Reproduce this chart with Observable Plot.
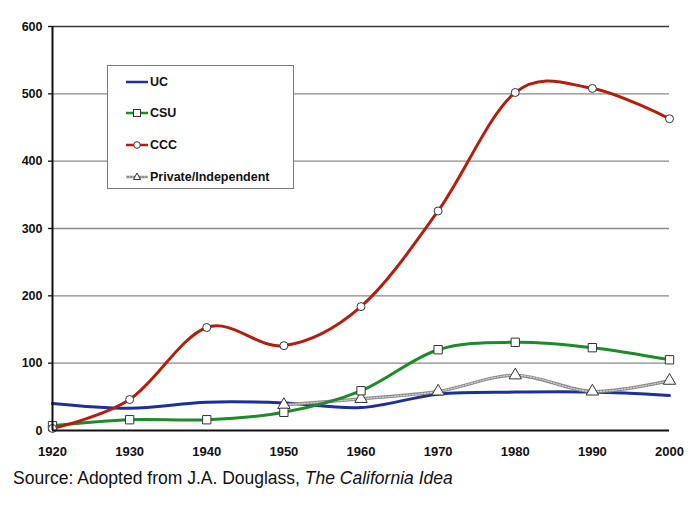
<!DOCTYPE html>
<html>
<head>
<meta charset="utf-8">
<script src="https://cdn.jsdelivr.net/npm/d3@7"></script>
<script src="https://cdn.jsdelivr.net/npm/@observablehq/plot@0.6"></script>
<style>
  html, body { margin: 0; padding: 0; background: #fff; }
  #wrap { position: relative; width: 699px; height: 520px; font-family: "Liberation Sans", Arial, Helvetica, sans-serif; }
  #legend { position: absolute; left: 107px; top: 65px; width: 187px; height: 124px; border: 1.5px solid #7a7a7a; background: #fff; box-sizing: border-box; }
  .item { position: absolute; left: 18px; height: 14px; display: flex; align-items: center; font-weight: bold; font-size: 12.5px; color: #111; }
  .item svg { display: block; margin-right: 1px; }
  #caption { position: absolute; left: 13px; top: 468px; font-size: 17.5px; color: #111; white-space: nowrap; }
</style>
</head>
<body>
<div id="wrap">
  <div id="chart"></div>
  <div id="legend"></div>
  <div id="caption">Source: Adopted from J.A. Douglass, <i>The California Idea</i></div>
</div>
<script>
const years = [1920, 1930, 1940, 1950, 1960, 1970, 1980, 1990, 2000];
const uc    = [40, 33, 42, 41, 34, 54, 57, 57, 52];
const csu   = [7, 16, 16, 27, 59, 120, 131, 123, 105];
const ccc   = [3, 46, 153, 126, 184, 326, 502, 508, 463];
const privateYears = [1950, 1960, 1970, 1980, 1990, 2000];
const privateInd   = [38, 47, 58, 82, 58, 74];
const yTicks = [0, 100, 200, 300, 400, 500, 600];
const seriesNames = ["UC", "CSU", "CCC", "Private/Independent"];
const colors = {UC: "#1f2f9a", CSU: "#1f8a2c", CCC: "#b21f0f", "Private/Independent": "#8c8c8c"};

const rows = (xs, vs) => xs.map((x, i) => ({year: x, value: vs[i]}));
const ucData = rows(years, uc);
const csuData = rows(years, csu);
const cccData = rows(years, ccc);
const privData = rows(privateYears, privateInd);

const chart = Plot.plot({
  width: 699,
  height: 462,
  marginLeft: 52,
  marginRight: 30,
  marginTop: 26,
  marginBottom: 32,
  style: {fontFamily: "'Liberation Sans', Arial, Helvetica, sans-serif", fontSize: "13px", fontWeight: "bold", color: "#111", background: "#fff"},
  x: {domain: [1920, 2000]},
  y: {domain: [0, 600]},
  marks: [
    Plot.ruleY(yTicks.filter(d => d > 0), {x1: 1920, x2: 2000, stroke: d => d === 600 ? "#3a3a3a" : "#8a8a8a", strokeWidth: 1.3}),
    Plot.axisX({ticks: years, tickFormat: d => String(d), tickSize: 0, tickPadding: 16, label: null, fontSize: 13}),
    Plot.axisY({ticks: yTicks, tickSize: 4, tickPadding: 6, label: null, fontSize: 12.5, stroke: "#111", strokeWidth: 1.3}),
    // UC
    Plot.line(ucData, {x: "year", y: "value", stroke: colors.UC, strokeWidth: 3, curve: "cardinal"}),
    // Private/Independent
    Plot.line(privData, {x: "year", y: "value", stroke: "#8a8a8a", strokeWidth: 3.2, curve: "cardinal"}),
    Plot.line(privData, {x: "year", y: "value", stroke: "#d6d6d6", strokeWidth: 1.2, strokeDasharray: "1.3,1.7", curve: "cardinal"}),
    Plot.dot(privData, {x: "year", y: "value", symbol: "triangle", r: 4.6, fill: "#fff", stroke: "#333", strokeWidth: 1}),
    // CSU
    Plot.line(csuData, {x: "year", y: "value", stroke: colors.CSU, strokeWidth: 3, curve: "cardinal"}),
    Plot.dot(csuData, {x: "year", y: "value", symbol: "square", r: 4.7, fill: "#fff", stroke: "#333", strokeWidth: 1}),
    // CCC
    Plot.line(cccData, {x: "year", y: "value", stroke: colors.CCC, strokeWidth: 3, curve: "cardinal"}),
    Plot.dot(cccData, {x: "year", y: "value", symbol: "circle", r: 4, fill: "#fff", stroke: "#333", strokeWidth: 1}),
    // axis lines
    Plot.ruleX([1920], {y1: 0, y2: 600, stroke: "#111", strokeWidth: 2}),
    Plot.ruleY([0], {x1: 1920, x2: 2000, stroke: "#111", strokeWidth: 2})
  ]
});
document.getElementById("chart").appendChild(chart);

// Legend
const legend = document.getElementById("legend");
const markerFor = {
  UC: "",
  CSU: '<rect x="7.5" y="3.5" width="7" height="7" fill="#fff" stroke="#333" stroke-width="1"/>',
  CCC: '<circle cx="11" cy="7" r="3.3" fill="#fff" stroke="#333" stroke-width="1"/>',
  "Private/Independent": '<path d="M11,3 L14.5,9.5 L7.5,9.5 Z" fill="#fff" stroke="#333" stroke-width="1"/>'
};
const rowTops = [10, 41, 73, 105];
seriesNames.forEach((name, i) => {
  const div = document.createElement("div");
  div.className = "item";
  div.style.top = (rowTops[i] - 1) + "px";
  const isPriv = name === "Private/Independent";
  const line = isPriv
    ? '<line x1="0" y1="7" x2="22" y2="7" stroke="#8a8a8a" stroke-width="2.5"/><line x1="0" y1="7" x2="22" y2="7" stroke="#d6d6d6" stroke-width="1" stroke-dasharray="1.3,1.7"/>'
    : `<line x1="0" y1="7" x2="22" y2="7" stroke="${colors[name]}" stroke-width="2.5"/>`;
  div.innerHTML = `<svg width="23" height="14">${line}${markerFor[name]}</svg><span>${name}</span>`;
  legend.appendChild(div);
});
</script>
</body>
</html>
